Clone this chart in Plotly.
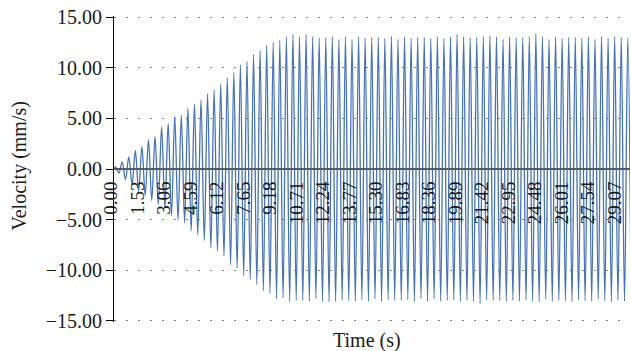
import numpy as np
import plotly.graph_objects as go

# Peak (positive) and trough (negative) velocity values, in order of occurrence (mm/s)
peaks = [0.2, 0.7, 1.2, 1.8, 2.2, 2.9, 3.2, 4.15, 4.5, 5.2,
         5.3, 6.0, 6.4, 6.8, 7.4, 7.8, 8.4, 9.0, 9.5, 10.3,
         10.6, 11.3, 11.7, 12.2, 12.5, 12.7, 13.05, 13.3, 13.05, 13.3,
         13.05, 12.95, 12.97, 13.05, 12.8, 13.05, 12.8, 13.05, 12.9, 13.0,
         13.0, 12.9, 13.1, 12.8, 13.05, 12.9, 13.0, 13.0, 12.9, 13.05,
         12.9, 13.05, 13.3, 13.05, 12.95, 13.0, 13.05, 13.15, 13.05, 12.8,
         13.05, 12.95, 13.0, 13.05, 13.35, 13.05, 12.8, 13.05, 12.9, 13.0,
         13.0, 12.9, 13.05, 12.8, 13.05, 12.9, 13.05, 13.0, 12.95]
troughs = [-0.4, -1.05, -1.55, -2.2, -2.6, -3.1, -3.5, -3.85, -4.6, -5.05,
           -5.3, -6.1, -6.5, -7.05, -7.8, -8.1, -8.6, -9.45, -9.8, -10.5,
           -10.9, -11.4, -12.0, -12.25, -12.8, -12.75, -13.07, -12.97, -12.97, -13.07,
           -12.8, -13.07, -13.1, -13.07, -12.95, -13.0, -13.07, -12.9, -13.07, -12.8,
           -13.07, -12.9, -12.97, -12.97, -12.9, -13.07, -12.8, -13.07, -12.8, -13.07,
           -12.97, -12.9, -13.07, -12.97, -13.07, -13.3, -12.9, -12.97, -12.97, -13.07,
           -12.95, -13.05, -12.9, -13.0, -13.1, -12.85, -13.05, -12.95, -13.0, -13.1,
           -12.9, -13.0, -13.05, -12.85, -13.0, -13.1, -12.95, -13.05, -13.0]

# sampling of the extrema (s)
first_peak_time = 0.095
half_period = 0.1896

tick_labels = ["0.00", "1.53", "3.06", "4.59", "6.12", "7.65", "9.18", "10.71",
               "12.24", "13.77", "15.30", "16.83", "18.36", "19.89", "21.42",
               "22.95", "24.48", "26.01", "27.54", "29.07"]
y_ticks = [-15, -10, -5, 0, 5, 10, 15]

# interleave peaks and troughs
vals = []
for i in range(len(peaks)):
    vals.append(peaks[i])
    if i < len(troughs):
        vals.append(troughs[i])
times = first_peak_time + half_period * np.arange(len(vals))
t = np.concatenate([[0.0], times])
v = np.concatenate([[0.0], vals])

FONT = "Liberation Serif"
TXT = "#1a1a1a"

fig = go.Figure()
fig.add_trace(go.Scatter(x=t, y=v, mode="lines",
                         line=dict(color="#4572b3", width=1.3, shape="spline", smoothing=1),
                         showlegend=False, hoverinfo="skip"))

fig.update_layout(
    width=631, height=351,
    margin=dict(l=114, r=1, t=16, b=29),
    paper_bgcolor="white", plot_bgcolor="white",
    font=dict(family=FONT, size=19, color=TXT),
    xaxis=dict(
        range=[0, 29.8],
        anchor="free", position=0.5,
        tickmode="array",
        tickvals=[float(s) for s in tick_labels],
        ticktext=tick_labels,
        tickangle=-90,
        ticks="",
        ticklabelshift=-3,
        ticklabelstandoff=4,
        automargin=False,
        showline=True, linecolor="#595959", linewidth=2,
        showgrid=False, zeroline=False,
        tickfont=dict(family=FONT, size=19, color=TXT),
    ),
    yaxis=dict(
        range=[-15.1, 15.1],
        tickmode="array",
        tickvals=y_ticks,
        tickformat=".2f",
        ticks="outside", ticklen=7, tickcolor="black", tickwidth=1,
        showline=True, linecolor="black", linewidth=1,
        showgrid=True, gridcolor="#808080", gridwidth=1.3, griddash="2px,10px",
        zeroline=False,
        automargin=False,
        ticklabeloverflow="allow",
        tickfont=dict(family=FONT, size=20, color=TXT),
    ),
    annotations=[
        dict(text="Time (s)", xref="paper", yref="paper",
             x=(366.7 - 114) / 516, y=(322 - 340) / 306,
             xanchor="center", yanchor="middle", showarrow=False,
             font=dict(family=FONT, size=20, color=TXT)),
        dict(text="Velocity (mm/s)", xref="paper", yref="paper",
             x=(18.5 - 114) / 516, y=(322 - 166) / 306, textangle=-90,
             xanchor="center", yanchor="middle", showarrow=False,
             font=dict(family=FONT, size=20, color=TXT)),
    ],
)

# remove the default page margin so the figure fills the window
fig.write_html("out.html",
               config={"displayModeBar": False},
               post_script="document.body.style.margin='0';document.body.style.overflow='hidden';")
